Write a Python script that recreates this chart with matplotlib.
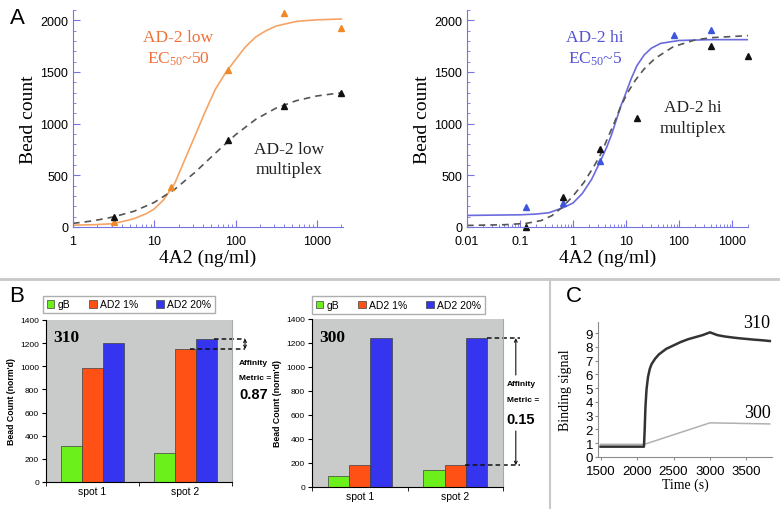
import numpy as np
import matplotlib
matplotlib.use("Agg")
from matplotlib import pyplot as plt
from matplotlib.lines import Line2D
from matplotlib.ticker import MultipleLocator, LogLocator, NullFormatter

plt.rcParams['font.family'] = ['Liberation Sans', 'DejaVu Sans']
plt.rcParams['mathtext.fontset'] = 'custom'
plt.rcParams['mathtext.rm'] = 'Liberation Serif'
plt.rcParams['mathtext.it'] = 'Liberation Serif'
SERIF = ['Liberation Serif', 'DejaVu Serif']

# ---- panel A, left: AD-2 low ----
dil = [3.2, 16, 80, 400, 2000]
low_pts = [48, 385, 1520, 2070, 1930]
low_mpx_x = [3.2, 80, 400, 2000]
low_mpx_pts = [95, 838, 1172, 1293]
low_fit_x = [1, 1.78, 3.16, 5.62, 8, 10, 13, 17.8, 24, 31.6, 42, 56.2, 75, 100,
             133, 178, 237, 316, 562, 1000, 2000]
low_fit_y = [18, 22, 32, 80, 130, 175, 262, 420, 660, 880, 1110, 1330, 1490, 1620,
             1745, 1840, 1900, 1945, 1990, 2005, 2013]
low_mpx_fit_x = [1, 1.78, 3.16, 5.62, 10, 17.8, 31.6, 56.2, 100, 178, 316, 562, 1000, 1778, 2000]
low_mpx_fit_y = [35, 60, 98, 152, 238, 364, 528, 713, 893, 1043, 1151, 1223, 1268, 1294, 1298]

# ---- panel A, right: AD-2 hi ----
hi_x = [0.128, 0.64, 3.2, 80, 400]
hi_pts = [190, 232, 634, 1858, 1910]
hi_mpx_x = [0.128, 0.64, 3.2, 16, 400, 2000]
hi_mpx_pts = [0, 294, 751, 1058, 1754, 1657]
hi_fit_x = [0.01, 0.1, 0.2, 0.35, 0.64, 1, 1.5, 2.25, 3.3, 4.3, 5.3, 6.5, 8.1, 10,
            12.4, 16, 22, 30, 45, 100, 400, 2000]
hi_fit_y = [112, 118, 125, 138, 185, 232, 325, 462, 640, 770, 890, 1030, 1180, 1300,
            1430, 1560, 1665, 1730, 1777, 1805, 1813, 1813]
hi_mpx_fit_x = [0.01, 0.05, 0.13, 0.25, 0.4, 0.64, 1, 1.6, 2.5, 3.3, 4.5, 6.1, 8,
                10.7, 15, 22, 35, 78, 200, 400, 2000]
hi_mpx_fit_y = [15, 22, 35, 62, 110, 195, 300, 430, 590, 700, 860, 1016, 1170,
                1300, 1420, 1530, 1630, 1745, 1810, 1832, 1852]

# ---- panel B ----
spots = ['spot 1', 'spot 2']
series = ['gB', 'AD2 1%', 'AD2 20%']
b310 = {'gB': [315, 248], 'AD2 1%': [981, 1148], 'AD2 20%': [1205, 1240]}
b300 = {'gB': [88, 136], 'AD2 1%': [181, 178], 'AD2 20%': [1240, 1240]}
bar_colors = ['#6cf01c', '#ff5015', '#3535f0']

# ---- panel C ----
t310 = [1500, 2095, 2105, 2115, 2130, 2150, 2175, 2200, 2250, 2300, 2400, 2500, 2600,
        2700, 2800, 2900, 3000, 3050, 3100, 3200, 3300, 3400, 3500, 3600, 3700, 3820]
s310 = [0.75, 0.75, 2.0, 3.6, 4.9, 5.8, 6.4, 6.75, 7.15, 7.45, 7.85, 8.1, 8.35,
        8.55, 8.7, 8.85, 9.05, 8.95, 8.85, 8.75, 8.68, 8.62, 8.57, 8.52, 8.48, 8.42]
t300 = [1500, 2100, 3000, 3820]
s300 = [0.92, 0.92, 2.48, 2.4]

W, H = 780, 510
fig = plt.figure(figsize=(7.8, 5.1), dpi=100)


def fa(x0, y0, x1, y1):
    return [x0 / W, 1 - y1 / H, (x1 - x0) / W, (y1 - y0) / H]


SPINE_BLUE = '#7474e0'
ORANGE = '#f08a28'
BLUE = '#3d55dd'


def style_a(ax):
    for s in ['top', 'right']:
        ax.spines[s].set_visible(False)
    for s in ['left', 'bottom']:
        ax.spines[s].set_color(SPINE_BLUE)
    ax.set_xscale('log')
    ax.set_ylim(0, 2100)
    ax.yaxis.set_major_locator(MultipleLocator(500))
    ax.yaxis.set_minor_locator(MultipleLocator(100))
    ax.xaxis.set_minor_locator(LogLocator(base=10, subs=np.arange(2, 10)))
    ax.xaxis.set_minor_formatter(NullFormatter())
    ax.tick_params(which='both', direction='in', color=SPINE_BLUE, labelsize=9)
    ax.tick_params(which='major', length=5)
    ax.tick_params(which='minor', length=2.5)
    ax.tick_params(axis='x', pad=6)
    ax.set_ylabel('Bead count', family=SERIF, fontsize=14)
    ax.set_xlabel('4A2 (ng/ml)', family=SERIF, fontsize=14)


# panel A left
a1 = fig.add_axes(fa(73, 11, 343, 228))
style_a(a1)
a1.set_xlim(1, 2100)
a1.set_xticks([1, 10, 100, 1000], ['1', '10', '100', '1000'])
a1.plot(low_fit_x, low_fit_y, color='#f6a466', lw=1.2)
a1.plot(low_mpx_fit_x, low_mpx_fit_y, color='#555555', lw=1.2, dashes=(4, 3))
a1.plot(dil, low_pts, '^', color=ORANGE, ms=5, clip_on=False)
a1.plot(low_mpx_x, low_mpx_pts, '^', color='#111111', ms=5, clip_on=False)
a1.text(0.389, 0.827, 'AD-2 low\nEC$_{50}$~50', transform=a1.transAxes, ha='center',
        va='center', color='#f07038', family=SERIF, fontsize=12.5, linespacing=1.35)
a1.text(0.80, 0.313, 'AD-2 low\nmultiplex', transform=a1.transAxes, ha='center',
        va='center', color='#222222', family=SERIF, fontsize=12.5, linespacing=1.35)
a1.yaxis.set_label_coords(-0.133, 0.5)
a1.xaxis.set_label_coords(0.5, -0.10)

# panel A right
a2 = fig.add_axes(fa(467, 11, 748, 228))
style_a(a2)
a2.set_xlim(0.01, 2000)
a2.set_xticks([0.01, 0.1, 1, 10, 100, 1000], ['0.01', '0.1', '1', '10', '100', '1000'])
a2.plot(hi_fit_x, hi_fit_y, color='#6b6bde', lw=1.2)
a2.plot(hi_mpx_fit_x, hi_mpx_fit_y, color='#555555', lw=1.2, dashes=(4, 3))
a2.plot(hi_x, hi_pts, '^', color=BLUE, ms=5, clip_on=False)
a2.plot(hi_mpx_x, hi_mpx_pts, '^', color='#111111', ms=5, clip_on=False)
a2.text(0.455, 0.827, 'AD-2 hi\nEC$_{50}$~5', transform=a2.transAxes, ha='center',
        va='center', color='#5252d6', family=SERIF, fontsize=12.5, linespacing=1.35)
a2.text(0.804, 0.505, 'AD-2 hi\nmultiplex', transform=a2.transAxes, ha='center',
        va='center', color='#222222', family=SERIF, fontsize=12.5, linespacing=1.35)
a2.yaxis.set_label_coords(-0.128, 0.5)
a2.xaxis.set_label_coords(0.5, -0.10)


# panel B
def style_b(ax, data, tag, legend_box):
    x = np.arange(len(spots))
    w = 0.225
    handles = []
    for i, name in enumerate(series):
        h = ax.bar(x + (i - 1) * w, data[name], w, color=bar_colors[i],
                   edgecolor='#404040', linewidth=0.5)
        handles.append(h)
    ax.set_facecolor('#c9cbcb')
    ax.set_xlim(-0.5, 1.5)
    ax.set_ylim(0, 1400)
    ax.spines['top'].set_visible(False)
    ax.spines['right'].set_color('#a8a8a8')
    ax.yaxis.set_major_locator(MultipleLocator(200))
    ax.set_xticks(x, spots)
    ax.set_xticks([-0.5, 0.5, 1.5], minor=True)
    ax.tick_params(axis='x', which='major', length=0, labelsize=7.5, pad=3)
    ax.tick_params(axis='x', which='minor', length=3)
    ax.tick_params(axis='y', length=3, labelsize=6, pad=2)
    ax.set_ylabel("Bead Count (norm'd)", fontsize=6.3, fontweight='bold')
    ax.text(0.04, 0.895, tag, transform=ax.transAxes, ha='left', va='center',
            family=SERIF, fontsize=12.5, fontweight='bold')
    fig.legend(handles, series, loc='center', mode='expand', ncol=3,
               bbox_to_anchor=legend_box, bbox_transform=fig.transFigure,
               borderaxespad=0, fancybox=False, edgecolor='#9a9a9a',
               fontsize=7.5, handlelength=0.75, handleheight=0.75,
               handletextpad=0.3, borderpad=0.35)


b1 = fig.add_axes(fa(46, 321, 232, 483))
style_b(b1, b310, '310', (43 / W, 1 - 314 / H, 172 / W, 17 / H))
b1.yaxis.set_label_coords(-0.16, 0.5)
dash_kw = dict(color='#111111', lw=1.1, ls=(0, (3, 2)), clip_on=False)
b1.plot([1.31, 1.64], [1240, 1240], **dash_kw)
b1.plot([1.05, 1.64], [1148, 1148], **dash_kw)
b1.annotate('', xy=(1.64, 1240), xytext=(1.64, 1148), annotation_clip=False,
            arrowprops=dict(arrowstyle='<->', lw=0.8, color='#111111',
                            mutation_scale=5, shrinkA=0, shrinkB=0))
b1.text(1.575, 1036, 'Affinity', fontsize=6, fontweight='bold', va='center')
b1.text(1.575, 907, 'Metric =', fontsize=6, fontweight='bold', va='center')
b1.text(1.575, 761, '0.87', fontsize=10.5, fontweight='bold', va='center')

b2 = fig.add_axes(fa(312, 320, 503, 487.5))
style_b(b2, b300, '300', (312 / W, 1 - 315 / H, 173 / W, 18 / H))
b2.yaxis.set_label_coords(-0.157, 0.5)
b2.plot([1.33, 1.676], [1240, 1240], **dash_kw)
b2.plot([1.10, 1.676], [178, 178], **dash_kw)
arr_kw = dict(arrowstyle='->', lw=0.8, color='#111111', mutation_scale=5,
              shrinkA=0, shrinkB=0)
b2.annotate('', xy=(1.634, 1240), xytext=(1.634, 932), annotation_clip=False,
            arrowprops=arr_kw)
b2.annotate('', xy=(1.634, 178), xytext=(1.634, 464), annotation_clip=False,
            arrowprops=arr_kw)
b2.text(1.54, 857, 'Affinity', fontsize=6, fontweight='bold', va='center')
b2.text(1.54, 723, 'Metric =', fontsize=6, fontweight='bold', va='center')
b2.text(1.54, 564, '0.15', fontsize=10.5, fontweight='bold', va='center')

# panel C
c = fig.add_axes(fa(598, 323, 772, 458))
c.plot(t300, s300, color='#b0b0b0', lw=1.1)
c.plot(t310, s310, color='#333333', lw=1.8)
c.set_xlim(1465, 3850)
c.set_ylim(0, 9.8)
c.set_xticks([1500, 2000, 2500, 3000, 3500])
c.set_yticks(range(10))
for s in ['top', 'right']:
    c.spines[s].set_visible(False)
for s in ['left', 'bottom']:
    c.spines[s].set_color('#8c8c8c')
    c.spines[s].set_linewidth(0.8)
c.tick_params(length=2.5, color='#8c8c8c', labelsize=9.5)
c.tick_params(axis='y', pad=1)
c.tick_params(axis='x', pad=3)
c.set_ylabel('Binding signal', family=SERIF, fontsize=10)
c.set_xlabel('Time (s)', family=SERIF, fontsize=10)
c.yaxis.set_label_coords(-0.15, 0.5)
c.xaxis.set_label_coords(0.5, -0.155)
c.text(0.914, 1.0, '310', transform=c.transAxes, ha='center', va='center',
       family=SERIF, fontsize=13)
c.text(0.914, 0.333, '300', transform=c.transAxes, ha='center', va='center',
       family=SERIF, fontsize=13)

# panel letters and separators
fig.text(17 / W, 1 - 19 / H, 'A', fontsize=16, ha='center', va='center')
fig.text(17 / W, 1 - 296 / H, 'B', fontsize=16, ha='center', va='center')
fig.text(574 / W, 1 - 296 / H, 'C', fontsize=16, ha='center', va='center')
fig.add_artist(Line2D([0, 1], [1 - 280 / H] * 2, color='#c8c8c8', lw=2,
                      transform=fig.transFigure))
fig.add_artist(Line2D([549.5 / W] * 2, [0, 1 - 280 / H], color='#c8c8c8', lw=1.5,
                      transform=fig.transFigure))

fig.savefig('out.png', dpi=100)
